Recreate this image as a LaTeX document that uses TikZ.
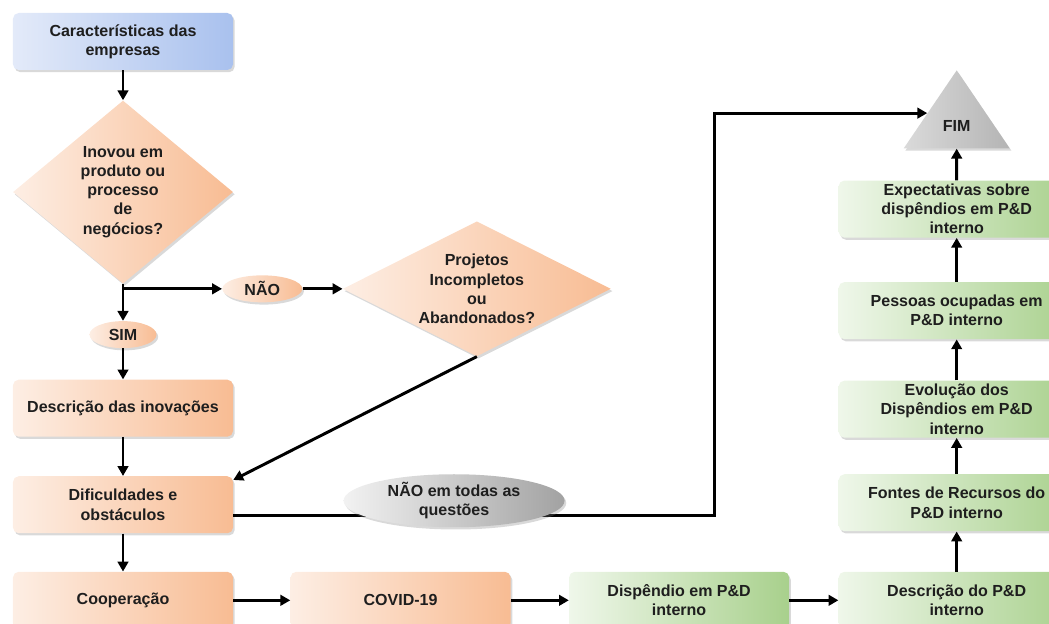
\documentclass[tikz,border=0pt]{standalone}
\usepackage{fontspec}
\setmainfont{Liberation Sans}
\usetikzlibrary{positioning,shapes.geometric,shadows,arrows.meta,calc}
\definecolor{laranjaclaro}{HTML}{FDEEE4}
\definecolor{laranja}{HTML}{F8BC93}
\definecolor{azulclaro}{HTML}{E3EAF9}
\definecolor{azul}{HTML}{A9C1EE}
\definecolor{verdeclaro}{HTML}{EFF7EA}
\definecolor{verde}{HTML}{A8D08C}
\definecolor{cinzaclaro}{HTML}{F2F2F2}
\definecolor{cinza}{HTML}{A2A2A2}
\definecolor{cinzafim}{HTML}{DADADA}
\definecolor{cinzafimesc}{HTML}{B4B4B4}
\definecolor{texto}{HTML}{1E1E1E}

\begin{document}
\begin{tikzpicture}[
            font=\fontsize{11.4}{13.6}\selectfont\bfseries, text=texto,
            sombra/.style={drop shadow={shadow xshift=1.2pt, shadow yshift=-1.6pt, opacity=0.3}},
            caixa/.style={rectangle, rounded corners=4pt, minimum width=5.5cm, minimum height=1.425cm,
                inner ysep=0.5pt, align=center, sombra},
            caixalaranja/.style={caixa, left color=laranjaclaro, right color=laranja},
            caixaazul/.style={caixa, left color=azulclaro, right color=azul},
            caixaverde/.style={caixa, left color=verdeclaro, right color=verde},
            losango/.style={diamond, inner sep=0pt, align=center, left color=laranjaclaro, right color=laranja, sombra},
            elipse/.style={ellipse, inner sep=0pt, minimum height=0.675cm, align=center,
                left color=laranjaclaro, right color=laranja, sombra},
            fimtri/.style={isosceles triangle, shape border rotate=90, isosceles triangle stretches,
                minimum width=2.65cm, minimum height=1.95cm, inner sep=0pt,
                left color=cinzafim, right color=cinzafimesc, sombra},
            seta/.style={line width=2.1pt, -{Triangle[length=7pt, width=7.5pt]}}
        ]
            \useasboundingbox (0,0) rectangle (26.225,-15.6);

            \node[caixaazul] (caract) at (3.075,-1.0375) {Características das\\empresas};
            \node[losango, minimum width=5.5cm, minimum height=4.575cm, aspect=1.2, below=0.75cm of caract] (inovou)
                {Inovou em\\produto ou\\processo\\de\\negócios?};
            \coordinate[below=0.125cm of inovou.south] (ramo);
            \node[elipse, minimum width=1.675cm, below=0.8cm of ramo] (sim) {SIM};
            \node[caixalaranja, below=0.775cm of sim] (descinov) {Descrição das inovações};
            \node[caixalaranja, below=0.975cm of descinov] (dific) {Dificuldades e\\obstáculos};
            \node[caixalaranja, below=0.95cm of dific] (coop) {Cooperação};
            \node[caixalaranja, right=1.425cm of coop] (covid) {COVID-19};
            \node[caixaverde, right=1.45cm of covid] (dispend) {Dispêndio em P\&D\\interno};
            \node[caixaverde, minimum width=5.9cm, right=1.225cm of dispend] (descpd) {Descrição do P\&D\\interno};
            \node[caixaverde, minimum width=5.9cm, above=1.0cm of descpd] (fontes) {Fontes de Recursos do\\P\&D interno};
            \node[caixaverde, minimum width=5.9cm, above=0.9cm of fontes] (evol) {Evolução dos\\Dispêndios em P\&D\\interno};
            \node[caixaverde, minimum width=5.9cm, above=1.025cm of evol] (pessoas) {Pessoas ocupadas em\\P\&D interno};
            \node[caixaverde, minimum width=5.9cm, above=1.1cm of pessoas] (expect) {Expectativas sobre\\dispêndios em P\&D\\interno};
            \node[fimtri, above=0.79cm of expect] (fim) {FIM};
            \node[elipse, minimum width=2cm, right=2.475cm of ramo] (nao) {NÃO};
            \node[losango, minimum width=6.7cm, minimum height=3.375cm, aspect=2, right=1cm of nao] (projetos)
                {Projetos\\Incompletos\\ou\\Abandonados?};
            \coordinate (fimin) at ($(fim.apex)!0.55!(fim.left corner)$);

            \draw[seta] (caract) -- (inovou);
            \draw[seta] (inovou.south) -- (ramo) -- (nao);
            \draw[seta] (ramo) -- (sim);
            \draw[seta] (nao) -- (projetos);
            \draw[seta] (projetos.south) -- ([yshift=-0.1cm]dific.north east);
            \draw[seta] (sim) -- (descinov);
            \draw[seta] (descinov) -- (dific);
            \draw[seta] (dific) -- (coop);
            \draw[seta] (coop) -- (covid);
            \draw[seta] (covid) -- (dispend);
            \draw[seta] (dispend) -- (descpd);
            \draw[seta] (descpd) -- (fontes);
            \draw[seta] (fontes) -- (evol);
            \draw[seta] (evol) -- (pessoas);
            \draw[seta] (pessoas) -- (expect);
            \draw[seta] (expect) -- (fim);
            \draw[seta] ([yshift=-0.2625cm]dific.east) -- ++(12.025,0) |- (fimin);

            \node[ellipse, inner sep=0pt, minimum width=5.525cm, minimum height=1.325cm, align=center,
                left color=cinzaclaro, right color=cinza, sombra, right=2.75cm of dific, yshift=0.1cm] (todas)
                {NÃO em todas as\\questões};
        \end{tikzpicture}
\end{document}
